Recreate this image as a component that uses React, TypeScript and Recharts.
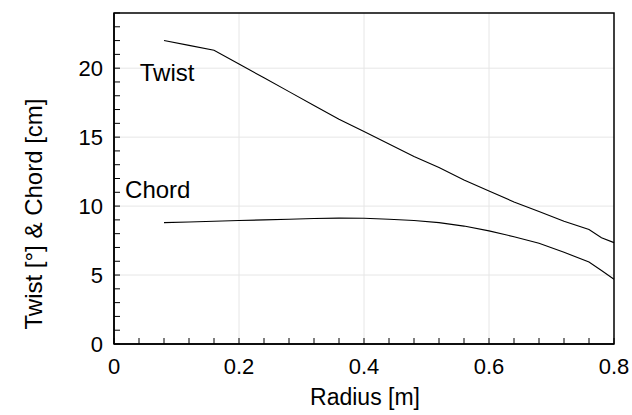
import React from 'react';
import { LineChart, Line, XAxis, YAxis, CartesianGrid, ReferenceArea, ReferenceDot } from 'recharts';

const radius = [0.08, 0.12, 0.16, 0.2, 0.24, 0.28, 0.32, 0.36, 0.4, 0.44, 0.48, 0.52, 0.56, 0.6, 0.64, 0.68, 0.72, 0.76, 0.78, 0.8];
const twist = [22.0, 21.65, 21.3, 20.3, 19.3, 18.3, 17.3, 16.3, 15.4, 14.5, 13.6, 12.8, 11.9, 11.1, 10.3, 9.6, 8.9, 8.3, 7.7, 7.35];
const chord = [8.8, 8.85, 8.9, 8.95, 9.0, 9.05, 9.1, 9.13, 9.12, 9.05, 8.95, 8.8, 8.55, 8.2, 7.78, 7.3, 6.65, 5.95, 5.33, 4.7];

const xTicks = [0, 0.04, 0.08, 0.12, 0.16, 0.2, 0.24, 0.28, 0.32, 0.36, 0.4, 0.44, 0.48, 0.52, 0.56, 0.6, 0.64, 0.68, 0.72, 0.76, 0.8];
const xLabels = [0, 0.2, 0.4, 0.6, 0.8];
const yTicks = [0, 1, 2, 3, 4, 5, 6, 7, 8, 9, 10, 11, 12, 13, 14, 15, 16, 17, 18, 19, 20, 21, 22, 23, 24];
const yLabels = [0, 5, 10, 15, 20];
const xGrid = [0.2, 0.4, 0.6];
const yGrid = [5, 10, 15, 20];

const data = radius.map((r, i) => ({ r, twist: twist[i], chord: chord[i] }));

const FONT = '"Liberation Sans", Arial, sans-serif';
const near = (v: number, list: number[]) => list.some((l) => Math.abs(l - v) < 1e-6);

export default function App() {
  return (
    <div style={{ width: 632, height: 415, position: 'absolute', left: 0, top: 0, fontFamily: FONT, overflow: 'hidden' }}>
      <LineChart width={632} height={415} data={data} margin={{ top: 13, right: 18, bottom: 0, left: 0 }}>
        <CartesianGrid stroke="#e6e6e6" strokeWidth={1} verticalValues={xGrid} horizontalValues={yGrid} />
        <XAxis dataKey="r" type="number" domain={[0, 0.8]} ticks={xTicks} height={71}
          tickSize={-6} tickMargin={20} interval={0}
          tickFormatter={(v: number) => (near(v, xLabels) ? String(Number(v.toFixed(2))) : '')}
          tick={{ fill: '#000', fontSize: 22, fontFamily: FONT }}
          axisLine={{ stroke: '#000', strokeWidth: 1.5 }} tickLine={{ stroke: '#000' }} />
        <YAxis type="number" domain={[0, 24]} ticks={yTicks} width={114}
          tickSize={-6} tickMargin={17} interval={0}
          tickFormatter={(v: number) => (near(v, yLabels) ? String(v) : '')}
          tick={{ fill: '#000', fontSize: 22, fontFamily: FONT }}
          axisLine={{ stroke: '#000', strokeWidth: 1.5 }} tickLine={{ stroke: '#000' }}
          label={{
            content: () => (
              <text x={33} y={214} transform="rotate(-90 33 214)" textAnchor="middle" dominantBaseline="central"
                fontSize={24} fontFamily={FONT} fill="#000">Twist [°] &amp; Chord [cm]</text>
            ),
          }} />
        <ReferenceArea x1={0} x2={0.8} y1={0} y2={24} fill="none" stroke="#000" strokeWidth={1.5} />
        <Line dataKey="twist" stroke="#000" strokeWidth={1.1} dot={false} isAnimationActive={false} type="linear" />
        <Line dataKey="chord" stroke="#000" strokeWidth={1.1} dot={false} isAnimationActive={false} type="linear" />
        <ReferenceDot x={0.085} y={19.7} r={0} fill="none" stroke="none"
          label={{ value: 'Twist', position: 'center', fontSize: 24, fill: '#000', fontFamily: FONT }} />
        <ReferenceDot x={0.07} y={11.2} r={0} fill="none" stroke="none"
          label={{ value: 'Chord', position: 'center', fontSize: 24, fill: '#000', fontFamily: FONT }} />
      </LineChart>
      <div style={{ position: 'absolute', left: 365 - 100, width: 200, top: 384, textAlign: 'center', fontSize: 23, lineHeight: '26px', color: '#000' }}>
        Radius [m]
      </div>
    </div>
  );
}
